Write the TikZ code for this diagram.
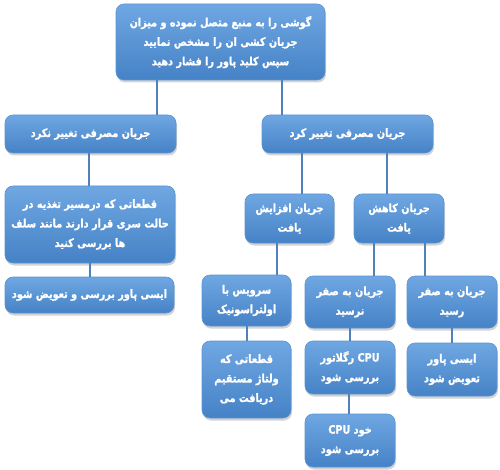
\documentclass[tikz,border=0pt]{standalone}
\usepackage{fontspec}
\newfontfamily\arabicfont[Script=Arabic, FakeStretch=0.84, BoldFont={DejaVu Sans Bold}, BoldFeatures={FakeBold=1.2}]{DejaVu Sans}
\TeXXeTstate=1
\usetikzlibrary{shadows}
\newcommand\rtltext[1]{\beginR #1\endR}
\definecolor{boxtop}{HTML}{6FA7E2}
\definecolor{boxbot}{HTML}{4582C6}
\definecolor{boxedge}{HTML}{5A95D2}
\definecolor{linecol}{HTML}{4F81BD}
\tikzset{
  box/.style={rectangle, rounded corners=8pt, top color=boxtop, bottom color=boxbot,
    draw=boxedge, line width=0.6pt, text=white, align=center, inner sep=0pt,
    font=\arabicfont\bfseries\fontsize{11.5}{19.5}\selectfont,
    drop shadow={opacity=0.35, shadow xshift=1pt, shadow yshift=-2.5pt}},
  conn/.style={draw=linecol, line width=1.4pt}
}
\begin{document}
\begin{tikzpicture}[x=1pt,y=-1pt]
\useasboundingbox (0,0) rectangle (500,470);
\node[box, minimum width=209pt, minimum height=76pt] (top) at (220.5,42)
  {\rtltext{گوشی را به منبع متصل نموده و میزان}\\\rtltext{جریان کشی ان را مشخص نمایید}\\\rtltext{سپس کلید پاور را فشار دهید}};
\node[box, minimum width=171pt, minimum height=38pt] (nokard) at (90.5,134)
  {\rtltext{جریان مصرفی تغییر نکرد}};
\node[box, minimum width=171pt, minimum height=38pt] (kard) at (347.5,134)
  {\rtltext{جریان مصرفی تغییر کرد}};
\node[box, minimum width=170pt, minimum height=77pt] (qataat) at (90,224.5)
  {\rtltext{قطعاتی که درمسیر تغذیه در}\\\rtltext{حالت سری قرار دارند مانند سلف}\\\rtltext{ها بررسی کنید}};
\node[box, minimum width=169pt, minimum height=36pt] (ipower) at (89.5,295)
  {\rtltext{ایسی پاور بررسی و تعویض شود}};
\node[box, minimum width=89pt, minimum height=49pt] (afz) at (289.5,218.5)
  {\rtltext{جریان افزایش}\\\rtltext{یافت}};
\node[box, minimum width=90pt, minimum height=49pt] (kah) at (399,218.5)
  {\rtltext{جریان کاهش}\\\rtltext{یافت}};
\node[box, minimum width=89pt, minimum height=51pt] (serv) at (246.5,300.5)
  {\rtltext{سرویس با}\\\rtltext{اولتراسونیک}};
\node[box, minimum width=90pt, minimum height=52pt] (naras) at (350,302)
  {\rtltext{جریان به صفر}\\\rtltext{نرسید}};
\node[box, minimum width=90pt, minimum height=52pt] (ras) at (452,302)
  {\rtltext{جریان به صفر}\\\rtltext{رسید}};
\node[box, minimum width=89pt, minimum height=77pt] (qat2) at (246.5,379.5)
  {\rtltext{قطعاتی که}\\\rtltext{ولتاژ مستقیم}\\\rtltext{دریافت می}};
\node[box, minimum width=90pt, minimum height=53pt] (reg) at (350,367.5)
  {\rtltext{\beginL CPU\endL{} رگلاتور}\\\rtltext{بررسی شود}};
\node[box, minimum width=90pt, minimum height=53pt] (ip2) at (452,369.5)
  {\rtltext{ایسی پاور}\\\rtltext{تعویض شود}};
\node[box, minimum width=90pt, minimum height=53pt] (cpu) at (350,440.5)
  {\rtltext{خود \beginL CPU\endL}\\\rtltext{بررسی شود}};
% connectors
\draw[conn] (top.south -| 157,0) -- (nokard.north -| 157,0);
\draw[conn] (top.south -| 282,0) -- (kard.north -| 282,0);
\draw[conn] (nokard.south -| 89,0) -- (qataat.north -| 89,0);
\draw[conn] (qataat.south -| 90,0) -- (ipower.north -| 90,0);
\draw[conn] (kard.south -| 302,0) -- (afz.north -| 302,0);
\draw[conn] (kard.south -| 387,0) -- (kah.north -| 387,0);
\draw[conn] (afz.south -| 277,0) -- (serv.north -| 277,0);
\draw[conn] (kah.south -| 374,0) -- (naras.north -| 374,0);
\draw[conn] (kah.south -| 425,0) -- (ras.north -| 425,0);
\draw[conn] (serv.south -| 247,0) -- (qat2.north -| 247,0);
\draw[conn] (naras.south -| 350,0) -- (reg.north -| 350,0);
\draw[conn] (ras.south -| 452,0) -- (ip2.north -| 452,0);
\draw[conn] (reg.south -| 349,0) -- (cpu.north -| 349,0);
\end{tikzpicture}
\end{document}
